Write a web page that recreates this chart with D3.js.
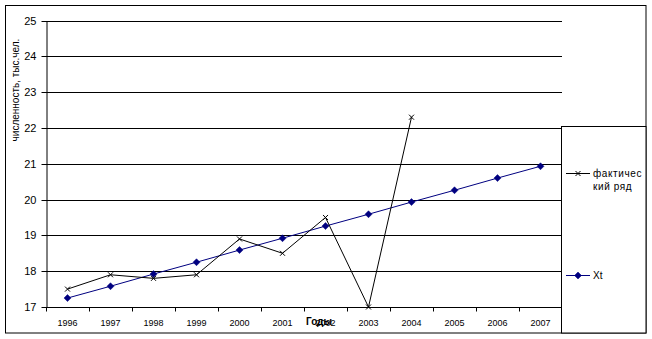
<!DOCTYPE html>
<html>
<head>
<meta charset="utf-8">
<script src="https://cdn.jsdelivr.net/npm/d3@7/dist/d3.min.js"></script>
<style>
  html, body { margin: 0; padding: 0; background: #fff; }
  svg { display: block; font-family: "Liberation Sans", Arial, sans-serif; }
</style>
</head>
<body>
<svg id="chart" width="652" height="339"></svg>
<script>
// Years on the category axis
const years = ["1996", "1997", "1998", "1999", "2000", "2001", "2002", "2003", "2004", "2005", "2006", "2007"];
// Observed population (thousand people), available through 2004
const actual = [17.5, 17.9, 17.8, 17.9, 18.9, 18.5, 19.5, 17.0, 22.3];
// Fitted trend Xt
const trend = [17.25, 17.58, 17.92, 18.25, 18.59, 18.92, 19.26, 19.59, 19.93, 20.26, 20.60, 20.93];
// Value axis ticks
const yTicks = [17, 18, 19, 20, 21, 22, 23, 24, 25];

// Legend names; the first one is wrapped over two lines
const seriesNames = [["фактичес", "кий ряд"], ["Xt"]];
const yTitle = "численность, тыс.чел.";
const xTitle = "Годы";

const svg = d3.select("#chart");
const plot = { left: 46, right: 562, top: 20.5, bottom: 307 };

// Outer frame
svg.append("rect")
  .attr("x", 5.5).attr("y", 5.5)
  .attr("width", 640.5).attr("height", 327.5)
  .attr("fill", "#fff").attr("stroke", "#000").attr("stroke-width", 1);

const x = d3.scaleBand().domain(years).range([plot.left, plot.right]);
const y = d3.scaleLinear().domain([17, 25]).range([plot.bottom, plot.top]);
const cx = d => x(d) + x.bandwidth() / 2;
const snap = v => Math.round(v) + 0.5;

// Horizontal gridlines
svg.append("g")
  .selectAll("line")
  .data(yTicks.filter(t => t > 17))
  .join("line")
  .attr("x1", plot.left).attr("x2", plot.right)
  .attr("y1", d => snap(y(d))).attr("y2", d => snap(y(d)))
  .attr("stroke", "#000").attr("stroke-width", 1);

// Value axis
const yAxis = svg.append("g")
  .attr("transform", `translate(${plot.left + 0.5},0)`)
  .call(d3.axisLeft(y).tickValues(yTicks).tickSize(5).tickSizeOuter(0).tickPadding(5)
    .tickFormat(d3.format("d")));
yAxis.select(".domain").attr("stroke", "#000");
yAxis.selectAll(".tick line").attr("stroke", "#000");
yAxis.selectAll(".tick").attr("transform", d => `translate(0,${snap(y(d))})`);
yAxis.selectAll("text").attr("font-size", 11).attr("fill", "#000")
  .attr("font-family", "'Liberation Sans', Arial, sans-serif");

// Category axis: ticks between categories
const xAxisG = svg.append("g")
  .attr("transform", `translate(0,${snap(y(17))})`);
xAxisG.append("line")
  .attr("x1", plot.left).attr("x2", plot.right)
  .attr("stroke", "#000");
const boundaries = years.map(d => x(d)).concat([x(years[years.length - 1]) + x.bandwidth()]);
xAxisG.selectAll("line.tk")
  .data(boundaries)
  .join("line")
  .attr("class", "tk")
  .attr("x1", d => snap(d)).attr("x2", d => snap(d))
  .attr("y1", 0).attr("y2", 4)
  .attr("stroke", "#000");
xAxisG.selectAll("text")
  .data(years)
  .join("text")
  .attr("x", d => cx(d))
  .attr("y", 18)
  .attr("text-anchor", "middle")
  .attr("font-size", 9)
  .attr("fill", "#000")
  .text(d => d);

// Axis titles
svg.append("text")
  .attr("transform", `translate(19,90) rotate(-90)`)
  .attr("text-anchor", "middle")
  .attr("font-size", 10)
  .attr("fill", "#000")
  .text(yTitle);

svg.append("text")
  .attr("x", 319).attr("y", 325)
  .attr("text-anchor", "middle")
  .attr("font-size", 10)
  .attr("font-weight", "bold")
  .attr("fill", "#000")
  .text(xTitle);

// Lines
const line = d3.line().x((d, i) => cx(years[i])).y(d => y(d));

svg.append("path")
  .datum(trend)
  .attr("d", line)
  .attr("fill", "none").attr("stroke", "#000080").attr("stroke-width", 1);

svg.append("path")
  .datum(actual)
  .attr("d", line)
  .attr("fill", "none").attr("stroke", "#000").attr("stroke-width", 1);

// Markers
function drawDiamond(g, px, py) {
  g.append("path")
    .attr("d", "M0,-3.5L3.5,0L0,3.5L-3.5,0Z")
    .attr("transform", `translate(${px},${py})`)
    .attr("fill", "#000080").attr("stroke", "#000080").attr("stroke-width", 0.5);
}
function drawCross(g, px, py) {
  g.append("path")
    .attr("d", "M-2.5,-2.5L2.5,2.5M-2.5,2.5L2.5,-2.5")
    .attr("transform", `translate(${px},${py})`)
    .attr("fill", "none").attr("stroke", "#000").attr("stroke-width", 1);
}
const mk = svg.append("g");
trend.forEach((v, i) => drawDiamond(mk, cx(years[i]), y(v)));
actual.forEach((v, i) => drawCross(mk, cx(years[i]), y(v)));

// Legend
const lg = svg.append("g");
lg.append("rect")
  .attr("x", 561.5).attr("y", 126.5)
  .attr("width", 84.5).attr("height", 206.5)
  .attr("fill", "#fff").attr("stroke", "#000");

const legendRows = [
  { names: seriesNames[0], y: 173, color: "#000", marker: drawCross, spacing: 0.6 },
  { names: seriesNames[1], y: 275, color: "#000080", marker: drawDiamond, spacing: 0 }
];
legendRows.forEach(r => {
  lg.append("line")
    .attr("x1", 566).attr("x2", 590)
    .attr("y1", r.y + 0.5).attr("y2", r.y + 0.5)
    .attr("stroke", r.color);
  r.marker(lg, 578, r.y + 0.5);
  const t = lg.append("text")
    .attr("x", 593).attr("y", r.y + 4)
    .attr("font-size", 10).attr("fill", "#000")
    .attr("letter-spacing", r.spacing);
  r.names.forEach((part, i) => {
    t.append("tspan").attr("x", 593).attr("dy", i === 0 ? 0 : 13).text(part);
  });
});
</script>
</body>
</html>
